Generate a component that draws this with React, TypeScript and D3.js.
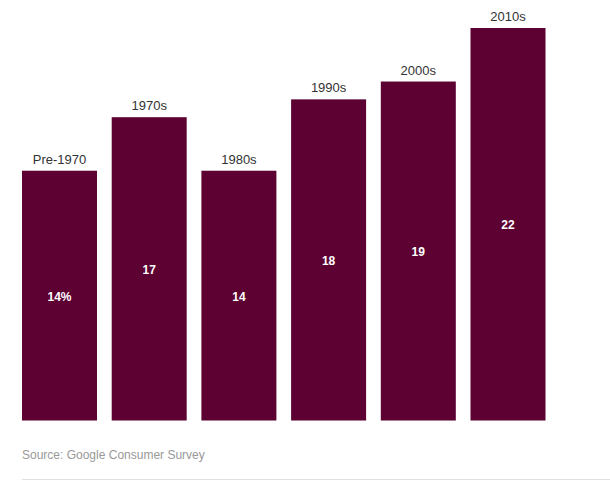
import { useEffect, useRef } from 'react'
import * as d3 from 'd3'

const categories = ['Pre-1970', '1970s', '1980s', '1990s', '2000s', '2010s']
const values = [14, 17, 14, 18, 19, 22]
const valueLabels = ['14%', '17', '14', '18', '19', '22']
const source = 'Source: Google Consumer Survey'

const width = 610
const height = 480

export default function App() {
  const svgRef = useRef<SVGSVGElement>(null)

  useEffect(() => {
    if (!svgRef.current) return
    const svg = d3.select(svgRef.current)
    svg.selectAll('*').remove()

    const x = d3.scaleBand<string>()
      .domain(categories)
      .range([22, 545.5])
      .paddingInner(0.164)
      .paddingOuter(0)

    const y = d3.scaleLinear()
      .domain([0, 22])
      .range([420.5, 28])

    const data = categories.map((c, i) => ({ c, v: values[i], label: valueLabels[i] }))

    // Bars
    svg.selectAll('.bar')
      .data(data)
      .join('rect')
      .attr('class', 'bar')
      .attr('x', d => x(d.c)!)
      .attr('y', d => y(d.v))
      .attr('width', x.bandwidth())
      .attr('height', d => y(0) - y(d.v))
      .style('fill', '#5c0131')

    // Category labels above bars
    svg.selectAll('.cat')
      .data(data)
      .join('text')
      .attr('class', 'cat')
      .attr('x', d => x(d.c)! + x.bandwidth() / 2)
      .attr('y', d => y(d.v) - 7)
      .attr('text-anchor', 'middle')
      .style('fill', '#333')
      .style('font-size', '13px')
      .style('font-family', 'Liberation Sans, Arial, sans-serif')
      .text(d => d.c)

    // Values in the middle of bars
    svg.selectAll('.val')
      .data(data)
      .join('text')
      .attr('class', 'val')
      .attr('x', d => x(d.c)! + x.bandwidth() / 2)
      .attr('y', d => (y(d.v) + y(0)) / 2 + 5)
      .attr('text-anchor', 'middle')
      .style('fill', '#fff')
      .style('font-size', '12px')
      .style('font-weight', '700')
      .style('font-family', 'Liberation Sans, Arial, sans-serif')
      .text(d => d.label)

    // Source
    svg.append('text')
      .attr('x', 22)
      .attr('y', 459)
      .style('fill', '#999')
      .style('font-size', '12px')
      .style('font-family', 'Liberation Sans Narrow, Arial Narrow, sans-serif')
      .text(source)

    // Bottom rule
    svg.append('line')
      .attr('x1', 22)
      .attr('x2', width)
      .attr('y1', 479.5)
      .attr('y2', 479.5)
      .style('stroke', '#e0e0e0')
      .style('stroke-width', '1px')
  }, [])

  return (
    <svg
      ref={svgRef}
      width={width}
      height={height}
      style={{ position: 'absolute', left: 0, top: 0, background: '#fff' }}
    />
  )
}
